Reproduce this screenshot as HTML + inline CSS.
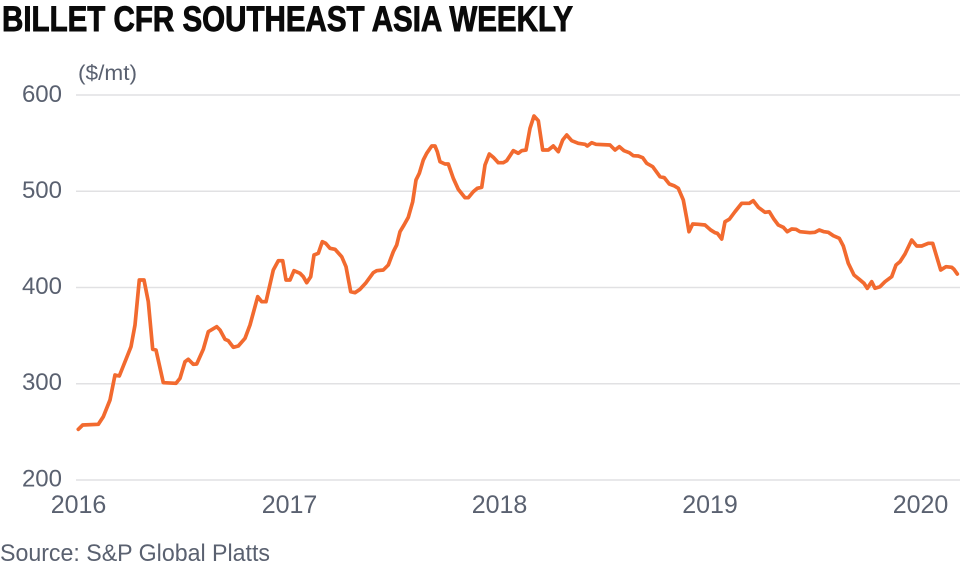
<!DOCTYPE html>
<html>
<head>
<meta charset="utf-8">
<style>
  html,body{margin:0;padding:0;background:#fff;}
  body{width:980px;height:568px;overflow:hidden;}
  svg{display:block;}
  .ax{font-family:"Liberation Sans",sans-serif;fill:#5a6170;}
</style>
</head>
<body>
<svg width="980" height="568" viewBox="0 0 980 568" xmlns="http://www.w3.org/2000/svg">
  <rect width="980" height="568" fill="#fff"/>
  <!-- Title -->
  <text x="2" y="31" font-family="'Liberation Sans Narrow','Liberation Sans',sans-serif" font-weight="bold" font-size="35" fill="#0a0a0a" stroke="#0a0a0a" stroke-width="0.9" textLength="571" lengthAdjust="spacingAndGlyphs">BILLET CFR SOUTHEAST ASIA WEEKLY</text>
  <!-- unit -->
  <text class="ax" x="78" y="80" font-size="21" textLength="59" lengthAdjust="spacingAndGlyphs">($/mt)</text>

  <!-- gridlines -->
  <g stroke="#e1e1e3" stroke-width="1.6">
    <line x1="76" y1="95" x2="960" y2="95"/>
    <line x1="76" y1="191.25" x2="960" y2="191.25"/>
    <line x1="76" y1="287.5" x2="960" y2="287.5"/>
    <line x1="76" y1="383.75" x2="960" y2="383.75"/>
    <line x1="76" y1="480" x2="960" y2="480"/>
  </g>

  <!-- y labels -->
  <g class="ax" font-size="24" text-anchor="end">
    <text x="62" y="102">600</text>
    <text x="62" y="198">500</text>
    <text x="62" y="294">400</text>
    <text x="62" y="390">300</text>
    <text x="62" y="486.5">200</text>
  </g>

  <!-- x labels -->
  <g class="ax" font-size="25" text-anchor="middle">
    <text x="78.5" y="513">2016</text>
    <text x="289.5" y="513">2017</text>
    <text x="499.5" y="513">2018</text>
    <text x="710" y="513">2019</text>
    <text x="920.5" y="513">2020</text>
  </g>

  <!-- series -->
  <polyline fill="none" stroke="#f26a2f" stroke-width="3.7" stroke-linejoin="round" stroke-linecap="round" points="
78.3,429.3 82.7,425 98.3,424.3 103.3,416.7 110,400 115,375 119.3,376 123.3,366 131,346.7 135,325 139.3,280 144,280 148.3,301.7 152.7,349.3 156,350 163.3,382.7 176,383.3 180,378.3 185,361.7 188.3,359.3 193.3,364.3 196.7,364 203.3,349.3 208.3,331.7 216.7,326.7 220,330 225,339.3 228.3,340.7 233.3,347.3 238.3,346 245,338.3 250,325 257.7,296.7 261.7,301.7 266,301.7 273.3,270 278.3,260.7 282.7,260.7 286,280 290,280 294,270.7 300,273.3 303.3,276.7 306.7,282.7 310.7,276.7 314,255 318.3,253.3 322.3,241.7 325.7,243.3 330,248.3 335,249.3 341.7,256.7 346,266.7 350.7,291.7 355,292.7 360,289.3 366,282.7 373.3,272.7 376.7,270.7 383.3,270 388.3,265 393.3,251.7 396.7,245 400,231.7 404,225 408.3,217.3 412.7,201.7 416,180 419.3,173.3 423.3,160 426.7,153.3 431.7,146 435,146 437.3,151.7 440,161.7 445,164 448.3,164 453.3,178.3 458.3,189.3 465,197.7 468.3,197.7 473.3,191.7 477.3,188.3 481.7,187.3 485,165 489.3,154 493.3,157.3 498.3,162.7 503.3,162.7 506.7,160.7 513.3,150.7 518.3,153.3 521.7,150.7 526,150 530,128.3 534,116 538.3,120.7 542.7,150 548.3,150 553.3,146 558.3,151.7 562.7,140 566.7,135 571.7,140.7 578.3,143.3 585,144.3 587.3,146 591.7,142.7 596,144.3 610,145 615,150 619.3,146.7 624,150.7 629.3,152.7 633.3,155.7 638.3,156 642.7,157.7 646.7,163.3 652.7,166.7 660,176.7 664.3,177.7 669.3,184 674,185.7 678.3,188.3 683.3,200 686.7,218.3 689,231.7 692.7,224 698.3,224.3 705,225 710.7,230 715,232.7 717.3,233.3 721.7,239 725,221.7 729.3,219.3 735,211.7 741.7,203.3 749.3,203.3 753.3,200.7 758.3,207.3 765,212.3 769.3,211.7 774,219.3 778.3,225 783.3,227.3 787.3,231.7 791.7,229 796,229.3 800,231.7 810,232.7 815,232.3 819.3,230 824,231.7 828.3,232.3 833.3,235.7 839.3,238.3 843.3,246 848.3,263.3 854,275 859.3,279.3 864,283.3 867.3,288.3 871.7,281.7 875,288.3 880,286.7 885,281.7 891.7,276.7 896,265 900,261.7 905,254 911.7,240 916.7,246 921.7,246 928.3,243.3 932.7,243.3 936.7,256.7 940.7,270 946,266.7 951.7,267.3 954,269.3 957.3,274"/>

  <!-- source -->
  <text class="ax" x="0" y="561" font-size="24" textLength="270" lengthAdjust="spacingAndGlyphs">Source: S&amp;P Global Platts</text>
</svg>
</body>
</html>
